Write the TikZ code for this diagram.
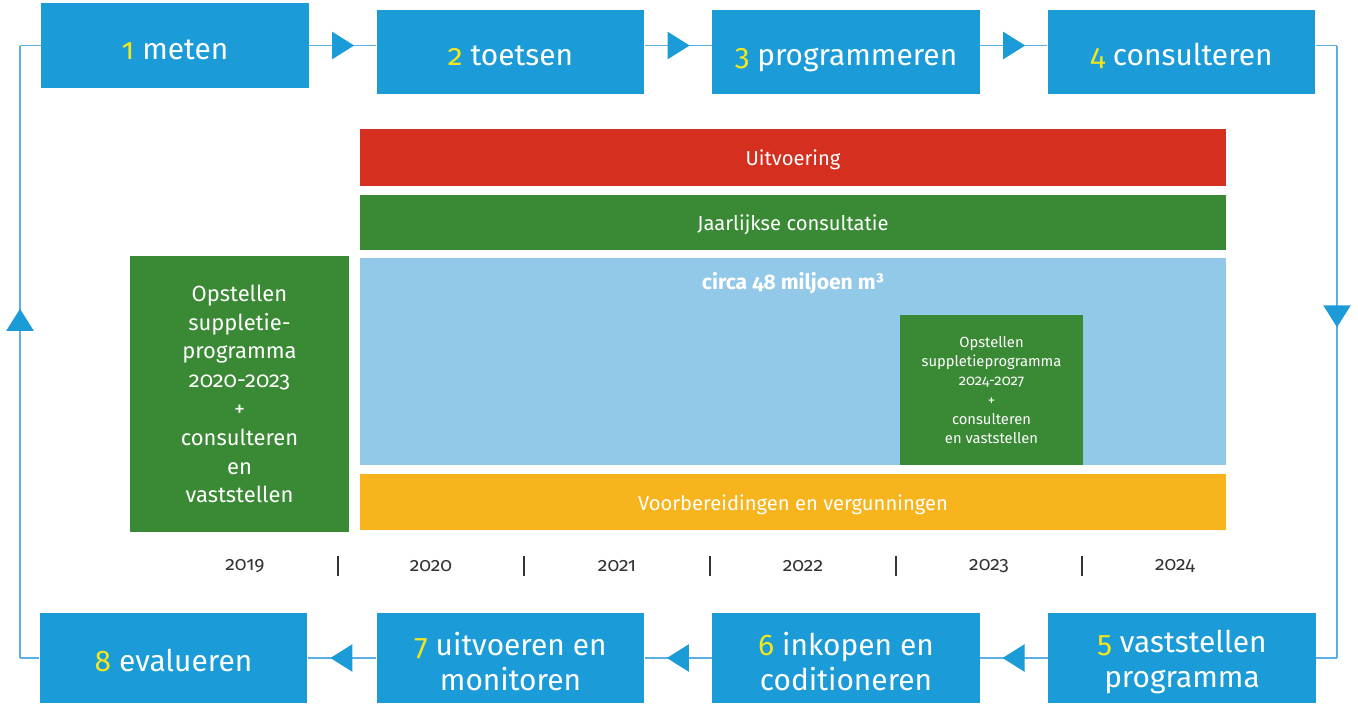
\documentclass[tikz,border=0pt]{standalone}
\usepackage{fontspec}
\setmainfont{Fira Sans}[Numbers=OldStyle]
\usetikzlibrary{positioning}
\usetikzlibrary{arrows.meta, decorations.markings}

\definecolor{stapblauw}{HTML}{1B9BD7}
\definecolor{lijnblauw}{HTML}{5AAFE0}
\definecolor{geel}{HTML}{F2E61C}
\definecolor{rood}{HTML}{D52F1F}
\definecolor{groen}{HTML}{3A8935}
\definecolor{lichtblauw}{HTML}{93C9E8}
\definecolor{oranje}{HTML}{F8B41C}
\definecolor{jaartekst}{HTML}{333333}

\tikzset{
    stap/.style={fill=stapblauw, text=white, inner sep=0pt, minimum width=5.36cm,
        align=center, font=\fontsize{17}{20}\selectfont},
    eenregel/.style={text height=16pt, text depth=0.3pt},
    balk/.style={fill=#1, text=white, inner sep=0pt, minimum width=17.32cm,
        text height=10pt, text depth=0.4pt, font=\fontsize{11.5}{13}\selectfont},
    verbinder/.style={draw=lijnblauw, line width=0.8pt},
    pijl/.style={postaction={decorate}, decoration={markings,
        mark=at position #1 with {\arrow{Triangle[width=15.5pt, length=12.5pt, color=stapblauw]}}}},
}

\newcommand{\nr}[1]{\rule{0pt}{1em}\textcolor{geel}{#1}}

\begin{document}
\begin{tikzpicture}[x=0.02cm, y=-0.02cm]
    \useasboundingbox (0,0) rectangle (1358,707);

    % Stappen boven
    \node[stap, eenregel, minimum height=1.7cm]  (m1) at (175,45.5) {\nr{1} meten};
    \node[stap, eenregel, minimum height=1.68cm] (m2) at (510.5,52) {\nr{2} toetsen};
    \node[stap, eenregel, minimum height=1.68cm] (m3) at (846,52) {\nr{3} programmeren};
    \node[stap, eenregel, minimum height=1.68cm] (m4) at (1181.5,52) {\nr{4} consulteren};

    % Stappen onder
    \node[stap, minimum height=1.8cm] (m5) at (1182,658) {\nr{5} vaststellen\\programma};
    \node[stap, minimum height=1.8cm] (m6) at (846,658) {\nr{6} inkopen en\\coditioneren};
    \node[stap, minimum height=1.8cm] (m7) at (510.5,658) {\nr{7} uitvoeren en\\monitoren};
    \node[stap, eenregel, minimum height=1.8cm] (m8) at (173.5,658) {\nr{8} evalueren};

    % Verbindingen
    \draw[verbinder, pijl=0.67] (m1.east) -- (m1.east -| m2.west);
    \draw[verbinder, pijl=0.67] (m2.east |- m1.east) -- (m1.east -| m3.west);
    \draw[verbinder, pijl=0.67] (m3.east |- m1.east) -- (m1.east -| m4.west);
    \draw[verbinder, pijl=0.67] (m5.west) -- (m6.east);
    \draw[verbinder, pijl=0.67] (m6.west) -- (m7.east);
    \draw[verbinder, pijl=0.67] (m7.west) -- (m8.east);

    \coordinate (rb) at (1337,45.5);
    \coordinate (ro) at (1337,658);
    \coordinate (lb) at (20,45.5);
    \coordinate (lo) at (20,658);
    \draw[verbinder] (m4.east |- m1.east) -- (rb);
    \draw[verbinder, pijl=0.46] (rb) -- (ro);
    \draw[verbinder] (ro) -- (m5.east);
    \draw[verbinder] (m8.west) -- (lo);
    \draw[verbinder, pijl=0.57] (lo) -- (lb);
    \draw[verbinder] (lb) -- (m1.west);

    % Planning
    \node[balk=rood, minimum height=1.14cm] (uitvoering) at (793,157.5) {Uitvoering};
    \node[balk=groen, minimum height=1.1cm] (consultatie) at (793,222.5) {Jaarlijkse consultatie};
    \node[balk=lichtblauw, minimum height=4.14cm] (volume) at (793,361.5) {};
    \node[text=white, font=\fontsize{12}{14}\selectfont\bfseries, anchor=north]
        (volumetekst) at ([yshift=-0.18cm]volume.north) {circa 48 miljoen m³};
    \node[balk=oranje, minimum height=1.12cm] (voorbereiding) at (793,502)
        {Voorbereidingen en vergunningen};

    \node[fill=groen, text=white, inner sep=0pt, minimum width=3.66cm, minimum height=3cm,
        align=center, font=\fontsize{8.4}{10.9}\selectfont] (nieuwprog) at (991.5,390)
        {Opstellen\\suppletieprogramma\\2024-2027\\+\\consulteren\\en vaststellen};
    \node[fill=groen, text=white, inner sep=0pt, minimum width=4.38cm, minimum height=5.52cm,
        align=center, font=\fontsize{12.5}{16.4}\selectfont] (prog) at (239.5,394)
        {Opstellen\\suppletie-\\programma\\2020-2023\\+\\consulteren\\en\\vaststellen};

    % Jaren
    \foreach \jaar [count=\i from 0] in {2019,2020,2021,2022,2023,2024} {
        \node[text=jaartekst, font=\fontsize{11}{13}\selectfont] (j\jaar) at (245+186*\i,566) {\jaar};
    }
    \foreach \i in {0,...,4} {
        \draw[jaartekst, line width=0.6pt] (338+186*\i,556) -- (338+186*\i,576);
    }
\end{tikzpicture}
\end{document}
